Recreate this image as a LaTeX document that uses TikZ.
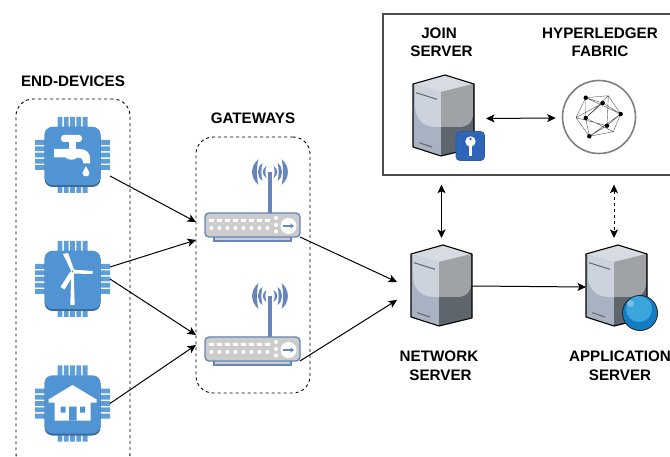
\documentclass[tikz,border=0pt]{standalone}
\usepackage{fontspec}
\setmainfont{Liberation Sans}
\usetikzlibrary{arrows.meta,calc}
\definecolor{chipblue}{HTML}{5094D3}
\definecolor{chiplight}{HTML}{5E9FD8}
\definecolor{chipdark}{HTML}{3C6A9C}
\definecolor{routerblue}{HTML}{6685B8}
\definecolor{srvtop}{HTML}{D7DCE3}
\definecolor{srvhi}{HTML}{CDD3DD}
\definecolor{srvleft}{HTML}{A9B2C2}
\definecolor{srvright}{HTML}{5E656C}
\definecolor{srvup}{HTML}{A0A3A5}
\definecolor{keyblue}{HTML}{2F66B8}
\definecolor{keyedge}{HTML}{2A5AA5}
\definecolor{globeblue}{HTML}{127CC4}
\definecolor{globelight}{HTML}{3CA6DC}
\tikzset{
  label text/.style={font=\fontsize{15.2}{18.5}\selectfont\bfseries,align=center,inner sep=0pt},
  icon box/.style={inner sep=0pt,outer sep=0pt,minimum width=#1},
  conn/.style={line width=1pt,-{Stealth[length=8.5pt,width=8pt,inset=2pt]}},
  both/.style={line width=1pt,{Stealth[length=8.5pt,width=8pt,inset=2pt]}-{Stealth[length=8.5pt,width=8pt,inset=2pt]}},
  group box/.style={draw,line width=0.9pt,dash pattern=on 3pt off 3pt,rounded corners=17pt,inner sep=0pt},
  chip base/.pic={
    \fill[chiplight]
      foreach \k in {-2,...,2} {
        ({6.3*\k-2.4},-38) rectangle ({6.3*\k+2.4},-28)
        ({6.3*\k-2.4},28) rectangle ({6.3*\k+2.4},38)
        (-37.5,{6.3*\k-2.4}) rectangle (-27,{6.3*\k+2.4})
        (27,{6.3*\k-2.4}) rectangle (37.5,{6.3*\k+2.4})
      };
    \fill[chipdark,rounded corners=8pt] (-28,-28) rectangle (28,32);
    \fill[chipblue,rounded corners=8pt] (-28,-28) rectangle (28,30);
  },
  server/.pic={
    \begin{scope}[shift={(-30.5,-40.5)}]
      \fill[srvleft] (0,9) -- (28,17) -- (28,81) -- (0,72) -- cycle;
      \fill[srvright] (28,17) -- (61,9) -- (61,73) -- (28,81) -- cycle;
      \fill[srvtop] (0,9) -- (32,0) -- (61,9) -- (28,17) -- cycle;
      \fill[srvhi] (2,10) -- (28,17) -- (28,52) -- (24,52) .. controls (8,52) and (2,42) .. (2,30) -- cycle;
      \fill[srvup] (28,17) -- (60,9) -- (60,38) .. controls (60,47) and (55,52) .. (46,52) -- (28,52) -- cycle;
      \draw[line width=1pt,color=black!60] (3,17.7) -- (24,24.3) (6.3,67.7) -- (19,72);
      \draw[line width=1.1pt,line join=round] (0,9) -- (32,0) -- (61,9) -- (61,73) -- (28,81) -- (0,72) -- cycle;
    \end{scope}
  },
  router/.pic={
    \begin{scope}[shift={(-48,-14)}]
      \draw[routerblue,line width=1.4pt,fill=white!80!black] (10,23) rectangle (87,28);
      \draw[routerblue,line width=1.4pt,fill=black!20,rounded corners=4pt] (1,0) rectangle (96,24);
      \fill[routerblue] (64.2,-41) rectangle (67.8,0);
      \foreach \s in {-1,1} {
        \fill[routerblue] ({66+\s*3.5},-47) .. controls ({66+\s*8.5},-44) and ({66+\s*8.5},-38) .. ({66+\s*3.5},-35)
          .. controls ({66+\s*5},-38) and ({66+\s*5},-44) .. cycle;
        \fill[routerblue] ({66+\s*7.5},-50) .. controls ({66+\s*13.5},-46) and ({66+\s*13.5},-36) .. ({66+\s*7.5},-32)
          .. controls ({66+\s*9},-36) and ({66+\s*9},-46) .. cycle;
        \fill[routerblue] ({66+\s*11.5},-54) .. controls ({66+\s*20},-47) and ({66+\s*20},-35) .. ({66+\s*11.5},-28)
          .. controls ({66+\s*13.5},-35) and ({66+\s*13.5},-47) .. cycle;
      }
      \fill[white] foreach \k in {0,...,7} {
        ({4.5+8*\k},6) -- ({10.5+8*\k},6) -- ({9.5+8*\k},9) -- ({5.5+8*\k},9) -- cycle
        ({7.5+8*\k},15) circle[radius=2]
      };
      \fill[white] (72,5) circle[radius=2] (72,12) circle[radius=2] (72,18.5) circle[radius=2];
      \fill[white] (84.5,13) circle[radius=8];
      \draw[routerblue,line width=1.5pt,-{Stealth[length=3.5pt,width=5pt]}] (79,13) -- (90,13);
    \end{scope}
  },
}
\begin{document}
\begin{tikzpicture}[x=1pt,y=-1pt]
\useasboundingbox (0,0) rectangle (670,457);
\clip (0,0) rectangle (670,457);
\fill[white] (0,0) rectangle (670,457);

% group frames
\node[group box,minimum width=114pt,minimum height=372pt] (devs) at (73,285) {};
\node[group box,minimum width=114pt,minimum height=256pt] (gws) at (253,265) {};
\node[draw=black!70,line width=1.3pt,fill=white,inner sep=0pt,minimum width=300pt,minimum height=161pt] (cloud) at (533,94.5) {};

% labels
\node[label text] (ldev) at (73,81) {END-DEVICES};
\node[label text] (lgw) at (253,118) {GATEWAYS};
\node[label text] (ljoin) at (441.5,42.5) {JOIN\hspace*{5pt}\\SERVER};
\node[label text] (lhl) at (600,42.5) {HYPERLEDGER\\FABRIC};
\node[label text] (lns) at (440.5,366) {NETWORK\hspace*{3pt}\\SERVER};
\node[label text] (las) at (620,366) {APPLICATION\\SERVER};

% icon anchors
\node[icon box=75pt,minimum height=76pt] (c1) at (72.5,155) {};
\node[icon box=75pt,minimum height=76pt] (c2) at (72.5,279) {};
\node[icon box=75pt,minimum height=76pt] (c3) at (72.5,403.5) {};
\node[icon box=96pt,minimum height=28pt] (r1) at (252,227) {};
\node[icon box=96pt,minimum height=28pt] (r2) at (252,351) {};
\node[icon box=61pt,minimum height=81pt] (ns) at (441.5,285.5) {};
\node[icon box=61pt,minimum height=81pt] (as) at (616.5,285.5) {};
\node[icon box=61pt,minimum height=81pt] (js) at (443.5,115.5) {};
\node[circle,draw=black!50,line width=1.6pt,fill=white,minimum size=73pt,inner sep=0pt] (hl) at (599,117) {};

% chips
\pic at (c1.center) {chip base};
\pic at (c2.center) {chip base};
\pic at (c3.center) {chip base};

% faucet
\begin{scope}[shift={(c1.center)}]
  \fill[white,rounded corners=3pt] (-11.5,-20) rectangle (9.5,-13);
  \fill[white] (-4,-14) rectangle (3,-5);
  \fill[white] (-18.5,-6) -- (7,-6) .. controls (14,-6) and (17.5,-2) .. (17.5,3) -- (17.5,8.5) -- (10.5,8.5) -- (10.5,6)
     .. controls (10.5,3.5) and (8,2.5) .. (5,2.5) .. controls (2,5.5) and (-4,5.5) .. (-7,2.5) -- (-18.5,2.5) -- cycle;
  \fill[white] (13.5,11) .. controls (15,15) and (17,16) .. (17,18) .. controls (17,22.5) and (10,22.5) .. (10,18) .. controls (10,16) and (12,15) .. (13.5,11) -- cycle;
\end{scope}

% wind turbine
\begin{scope}[shift={(c2.center)}]
  \fill[white] (-1.2,-7.5) -- (1.2,-7.5) -- (2.2,26) -- (-2.2,26) -- cycle;
  \fill[white] (-1.5,-9.5) -- (-2,-5.5) -- (20,-5) -- (20,-8) -- cycle;
  \fill[white] (-2,-9.5) -- (2,-8) -- (-4.5,-26) -- (-9.5,-25) -- cycle;
  \fill[white] (-2.5,-7) -- (1.5,-5) -- (-8,10.5) -- (-12,8) -- cycle;
  \fill[chipblue] (0,-7.5) circle[radius=1];
\end{scope}

% house
\begin{scope}[shift={(c3.center)}]
  \fill[white] (0,-18.5) -- (24,-4) -- (24,-1) -- (18,-1) -- (18,17) -- (-18,17) -- (-18,-1) -- (-24,-1) -- (-24,-4) -- cycle;
  \fill[chipblue] (-12,3) rectangle (-7,9) (7.5,3) rectangle (12.5,9) (-3.5,3) rectangle (4,17);
\end{scope}

% routers
\pic at (r1.center) {router};
\pic at (r2.center) {router};

% servers
\pic at (js.center) {server};
\pic at (ns.center) {server};
\pic at (as.center) {server};

% key badge
\begin{scope}[shift={(js.center)}]
  \fill[fill=keyblue,rounded corners=4pt,draw=keyedge,line width=0.8pt] (12.5,16) rectangle (41,45);
  \fill[white] (27,26) circle[radius=5.2];
  \fill[white] (25.5,29) rectangle (28.5,41);
  \fill[keyblue] (27,23.5) circle[radius=1.3];
\end{scope}

% globe
\begin{scope}[shift={(as.center)}]
  \fill[black!85] (23.5,27.5) circle[radius=18];
  \fill[globeblue] (23.5,27.5) circle[radius=17];
  \fill[globelight] (22.5,23.5) circle[radius=13];
  \fill[white,opacity=0.3] (14,18) circle[radius=3.5];
\end{scope}

% hyperledger mesh
\begin{scope}[shift={(hl.center)}]
  \draw[black!65,line width=0.4pt,line join=round]
    (-13.3,-19.3) -- (9.3,-21.3) -- (21.7,-3) -- (14.3,14.7) -- (-9.7,19.3) -- (-23,0.7) -- cycle
    (-13.3,-19.3) -- (3.7,-14) -- (21.7,-3) -- (8,8.7) -- (-9.7,19.3) -- (-13.3,1) -- cycle
    (-13.3,-19.3) -- (21.7,-3) (3.7,-14) -- (-23,0.7) (3.7,-14) -- (-13.3,1) -- (14.3,14.7)
    (9.3,-21.3) -- (-13.3,1) (9.3,-21.3) -- (8,8.7) (-23,0.7) -- (8,8.7) (-9.7,19.3) -- (21.7,-3);
  \fill[black] (-13.3,-19.3) circle[radius=2.2] (3.7,-14) circle[radius=2.2] (21.7,-3) circle[radius=2.2]
     (-13.3,1) circle[radius=2.2] (8,8.7) circle[radius=2.2] (-9.7,19.3) circle[radius=2.2];
\end{scope}

% connectors
\draw[conn] ($(c1.east)+(0,21)$) -- ($(r1.west)+(-8,-5)$);
\draw[conn] ($(c2.east)+(0,-12)$) -- ($(r1.west)+(-8,13)$);
\draw[conn] ($(c2.east)+(0,0)$) -- ($(r2.west)+(-8,-16)$);
\draw[conn] ($(c3.east)+(0,0)$) -- ($(r2.west)+(-8,-6)$);
\draw[conn] ($(r1.east)+(0,10)$) -- ($(ns.west)+(-14,-3.5)$);
\draw[conn] ($(r2.east)+(0,10)$) -- ($(ns.west)+(-14,14.5)$);
\draw[conn] ($(ns.east)+(0,0.5)$) -- ($(as.west)+(0,1.5)$);
\draw[both] ($(ns.north |- cloud.south)+(0,9)$) -- ($(ns.north)+(0,-7)$);
\draw[both,dash pattern=on 3pt off 3pt] ($(as.north |- cloud.south)+(-2.5,9)$) -- ($(as.north)+(-2.5,-7)$);
\draw[both] ($(js.east)+(12,3)$) -- ($(hl.west)+(-6,1)$);
\end{tikzpicture}
\end{document}
